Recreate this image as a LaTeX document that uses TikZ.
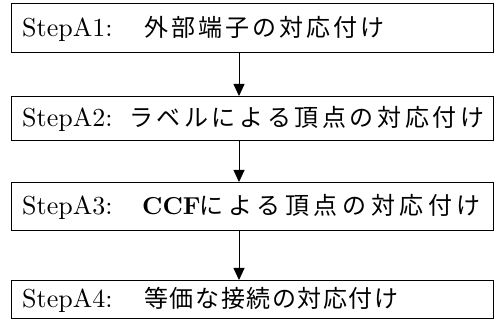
\documentclass[tikz,border=0pt]{standalone}
\usepackage{fontspec}
\setmainfont{lmroman10-regular.otf}[BoldFont=lmroman10-bold.otf]
\newfontfamily\jpfont{Noto Sans CJK JP}
\usetikzlibrary{arrows.meta}
\makeatletter
\newcommand\spreadjp[2]{\@tfor\jpch:=#2\do{\makebox[#1][c]{\jpch}}}
\makeatother
\tikzset{
  stepbox/.style={draw=black, line width=0.9pt, rectangle, inner sep=0pt, outer sep=0pt, minimum width=482pt},
  lat/.style={anchor=base west, inner sep=0pt, font=\fontsize{26}{30}\selectfont},
  cjk/.style={anchor=base west, inner sep=0pt, font=\jpfont\fontsize{24}{28}\selectfont},
  boldlat/.style={anchor=base west, inner sep=0pt, font=\bfseries\fontsize{24.5}{28}\selectfont},
  arr/.style={line width=0.9pt, -{Triangle[length=12pt,width=11pt]}}
}
\begin{document}
\begin{tikzpicture}[x=1pt,y=1pt]
\useasboundingbox (0,0) rectangle (498,320);
% boxes
\node[stepbox, minimum height=49pt] (b1) at (252,292.5) {};
\node[stepbox, minimum height=44pt] (b2) at (252,202) {};
\node[stepbox, minimum height=48pt] (b3) at (252,114) {};
\node[stepbox, minimum height=38pt] (b4) at (252,21) {};
% texts
\node[lat] (l1) at (22,283.5) {StepA1:};
\node[cjk] (j1) at (142.5,283.5) {\spreadjp{27pt}{外部端子の対応付け}};
\node[lat] (l2) at (22,193) {StepA2:};
\node[cjk] (j2) at (127,193) {\spreadjp{27.6pt}{ラベルによる頂点の対応付け}};
\node[lat] (l3) at (22,105) {StepA3:};
\node[boldlat] (c3) at (142,105) {CCF};
\node[cjk] (j3) at (197,105) {\spreadjp{28.6pt}{による頂点の対応付け}};
\node[lat] (l4) at (22,12.5) {StepA4:};
\node[cjk] (j4) at (143.2,12.5) {\spreadjp{25.6pt}{等価な接続の対応付け}};
% arrows
\coordinate (ax) at (239,0);
\draw[arr] (b1.south -| ax) -- (b2.north -| ax);
\draw[arr] (b2.south -| ax) -- (b3.north -| ax);
\draw[arr] (b3.south -| ax) -- (b4.north -| ax);
\end{tikzpicture}
\end{document}
